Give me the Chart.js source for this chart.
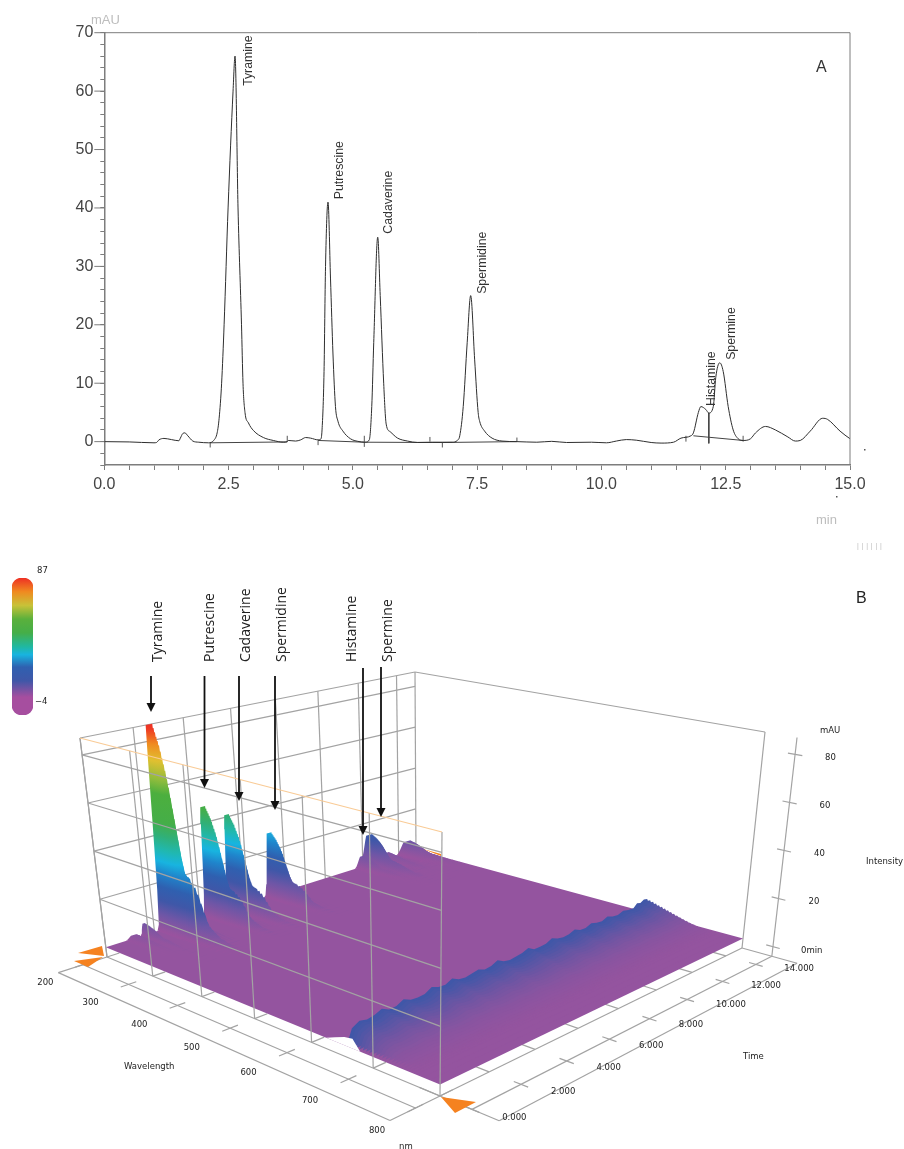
<!DOCTYPE html>
<html>
<head>
<meta charset="utf-8">
<script src="https://cdn.jsdelivr.net/npm/chart.js@4/dist/chart.umd.min.js"></script>
<style>
html, body { margin: 0; padding: 0; background: #fff; }
canvas { position: absolute; }
</style>
</head>
<body>
<canvas id="chrom" width="904" height="560" style="left:0px;top:0px"></canvas>
<canvas id="scene" width="904" height="589" style="left:0px;top:560px"></canvas>
<canvas id="bar" width="60" height="160" style="left:0px;top:565px"></canvas>
<script>
// --- panel A, chromatogram ---
const traceTimes = [0, 0.5, 1.0, 1.05, 1.1, 1.2, 1.35, 1.5, 1.53, 1.58, 1.62, 1.68, 1.78, 1.9, 2.1, 2.2, 2.27, 2.31, 2.36, 2.41, 2.49, 2.59, 2.63, 2.69, 2.76, 2.79, 2.83, 2.9, 3.0, 3.2, 3.4, 3.6, 3.68, 3.7, 3.85, 3.95, 4.05, 4.15, 4.3, 4.35, 4.38, 4.42, 4.45, 4.5, 4.55, 4.6, 4.65, 4.7, 4.8, 4.95, 5.1, 5.25, 5.33, 5.38, 5.42, 5.5, 5.55, 5.62, 5.67, 5.75, 5.9, 6.1, 6.3, 6.6, 7.0, 7.1, 7.15, 7.22, 7.3, 7.37, 7.45, 7.52, 7.55, 7.65, 7.8, 8.0, 8.3, 8.7, 9.0, 9.3, 9.8, 10.1, 10.3, 10.5, 10.7, 11.0, 11.2, 11.45, 11.6, 11.8, 11.85, 11.95, 12.0, 12.1, 12.16, 12.25, 12.3, 12.38, 12.45, 12.55, 12.65, 12.75, 12.85, 13.0, 13.1, 13.3, 13.5, 13.75, 13.9, 14.0, 14.2, 14.45, 14.55, 14.8, 15.0, 15.1, 15.16];
const traceSignal = [0, -0.05, -0.2, -0.15, 0.3, 0.55, 0.35, 0.15, 0.6, 1.4, 1.5, 1.0, 0.1, -0.1, -0.2, 0.2, 1.5, 4, 10, 20, 40, 60, 66, 40, 20, 10, 5, 3.2, 1.9, 0.7, 0.2, -0.1, 0, 0.2, 0.1, 0.3, 0.7, 0.6, 0.3, 0.4, 2, 12, 30, 41, 28, 15, 6, 3.5, 1.8, 0.5, 0.05, -0.1, 0.3, 6, 17, 35, 25, 10, 3, 1.7, 0.6, 0.1, -0.15, -0.1, -0.1, 0.2, 1, 6, 17, 25, 14, 5, 3.5, 1.8, 0.6, 0.1, 0, -0.1, 0.05, -0.15, -0.1, -0.2, 0.1, 0.35, 0.25, -0.15, -0.25, -0.1, 0.6, 1, 1.5, 5, 6, 5.5, 4.9, 6, 11, 13.5, 12, 6, 2, 0.5, 0.2, 0.5, 1.5, 2.6, 2, 0.8, 0.1, 0.2, 1.8, 4, 3.8, 1.8, 0.5, 0, -0.4];
const baselineTimes = [2.13, 3.68, null, 4.3, 5.23, 6.8, 8.3, null, 11.85, 12.85];
const baselineSignal = [-0.2, -0.05, null, 0.2, -0.1, -0.15, 0, null, 1, 0.2];
const eventTimes = [2.13, 3.68, 4.3, 5.23, 5.23, 6.55, 6.8, 8.3, 11.7, 12.85];
const eventLow = [-1, 0, -0.6, -0.9, 0, 0, -1, 0, 0, 0];
const eventHigh = [-0.2, 1, 0.2, 0, 1, 0.8, -0.1, 0.7, 1, 1];
const compounds = ['Tyramine', 'Putrescine', 'Cadaverine', 'Spermidine', 'Histamine', 'Spermine'];
const compoundLabelTimes = [2.91, 4.74, 5.71, 7.6, 12.22, 12.62];
const compoundLabelLevels = [60.9, 41.5, 35.6, 25.3, 6.1, 14];
const xMin = 0, xMax = 15, yMin = -4, yMax = 70;

// --- panel B, 3D plot (wavelength nm, time min, intensity mAU) ---
const wavelengthTicks = [200, 300, 400, 500, 600, 700, 800];
const timeTicks = [0, 2, 4, 6, 8, 10, 12, 14];
const intensityTicks = [20, 40, 60, 80];
const peakTimes = [14.5, 13.3, 12.4, 12.0, 7.37, 5.5, 4.5, 2.63, 1.6, 1.15];
const peakHeights = [5.5, 3, 14, 5, 28, 41, 47, 87, 5, 1.5];
const peakWidths = [1.5, 1.2, 1.3, 1, 0.85, 0.8, 0.8, 1, 0.4, 0.8];
const shapeOffsets = [-0.5, -0.42, -0.34, -0.26, -0.18, -0.14, 0.12, 0.17, 0.24, 0.32, 0.4, 0.5, 0.7, 0.9];
const shapeLevels = [0, 0.03, 0.2, 0.5, 0.85, 1, 1, 0.85, 0.5, 0.18, 0.08, 0.04, 0.02, 0];
const spectrumWaves = [200, 202, 204, 206, 208, 210, 212, 214, 216, 218, 220, 222, 224, 226, 228, 230, 232, 234, 236, 238, 240, 242, 244, 246, 248, 250, 255, 260, 265, 270, 275, 280, 285, 290, 295, 300, 310, 320, 330, 340];
const spectrumLevels = [1, 0.98, 0.96, 0.94, 0.92, 0.9, 0.87, 0.84, 0.81, 0.78, 0.74, 0.7, 0.65, 0.6, 0.55, 0.5, 0.45, 0.4, 0.36, 0.33, 0.3, 0.29, 0.285, 0.28, 0.28, 0.275, 0.26, 0.24, 0.21, 0.17, 0.13, 0.09, 0.07, 0.06, 0.05, 0.04, 0.03, 0.02, 0.01, 0.004];
const ridgeTimes = [0.1, 0.3, 0.6, 0.9, 1.2, 1.5, 1.8, 2.1, 2.4, 2.7, 3.0, 3.3, 3.6, 3.9, 4.2, 4.5, 4.8, 5.1, 5.4, 5.7, 6.0, 6.3, 6.6, 6.9, 7.2, 7.5, 7.8, 8.1, 8.4, 8.7, 9.0, 9.3, 9.6, 9.9, 10.2, 10.5, 10.8, 11.1, 11.4, 11.7, 12.0, 12.3, 12.6, 12.9, 13.2, 13.5, 13.8, 14.0, 14.2, 14.4, 14.6, 14.75, 14.85];
const ridgeHeights = [0, 5, 6.6, 5.9, 6.4, 7.6, 6.2, 6.4, 7.8, 6.5, 6.2, 6.5, 8, 7.0, 6.7, 8.1, 6.7, 6.3, 6.8, 7.4, 6.3, 6.7, 7.9, 6.5, 6, 6.3, 6.7, 7.7, 6.2, 6.3, 6.5, 7.7, 6.7, 6.2, 6.5, 7.5, 6.3, 6.2, 7.2, 6.5, 6.2, 7.2, 6.3, 6, 6.9, 6.3, 6.2, 7.7, 7.2, 8.1, 7.8, 5, 0];
const ridgeWaves = [655, 660, 665, 670, 675, 680, 685, 690, 695, 700, 705, 710, 715, 720, 725, 730, 735, 740, 745, 750, 755, 760, 765, 775, 785];
const ridgeLevels = [1, 0.97, 0.93, 0.88, 0.83, 0.78, 0.73, 0.68, 0.63, 0.58, 0.53, 0.48, 0.43, 0.38, 0.33, 0.29, 0.25, 0.21, 0.17, 0.14, 0.11, 0.08, 0.05, 0.03, 0.01];
const notchWaves = [625, 640, 655, 668, 680];
const notchLift = [0, 1.5, 3, 3.5, 0];
const colourLevels = [-4, 0, 6, 12, 18, 24, 29, 34, 40, 46, 58, 64, 72, 79, 85, 87];
const colourStops = ['#a64e9f', '#94549f', '#6e56a6', '#3f57a8', '#2f60b0', '#1f85cc', '#18b4e0', '#20b8b0', '#30b078', '#45ae48', '#4caf3e', '#8fbc3c', '#e0c030', '#f08a20', '#ee3b24', '#ee3024'];

const floorQuad = [[107, 957], [440, 1096], [742, 948], [416, 858]];
const topQuad = [[80, 738], [442, 832], [765, 732], [415, 672]];
const timeSpan = 15, intensityLow = -4, intensityTop = 87;

function squareToQuad(q) {
    const [[x0, y0], [x1, y1], [x2, y2], [x3, y3]] = q;
    const dx1 = x1 - x2, dx2 = x3 - x2, sx = x0 - x1 + x2 - x3;
    const dy1 = y1 - y2, dy2 = y3 - y2, sy = y0 - y1 + y2 - y3;
    const den = dx1 * dy2 - dx2 * dy1;
    const g = (sx * dy2 - dx2 * sy) / den, h = (dx1 * sy - sx * dy1) / den;
    const a = x1 - x0 + g * x1, b = x3 - x0 + h * x3, d = y1 - y0 + g * y1, e = y3 - y0 + h * y3;
    return (u, v) => {
        const w = g * u + h * v + 1;
        return [(a * u + b * v + x0) / w, (d * u + e * v + y0) / w];
    };
}
const floorMap = squareToQuad(floorQuad), topMap = squareToQuad(topQuad);

// wavelength, time, intensity -> scene coordinates
function project(w, t, i) {
    const u = (w - 200) / 600, v = t / timeSpan, s = (i - intensityLow) / (intensityTop - intensityLow);
    const f = floorMap(u, v), p = topMap(u, v);
    return { x: f[0] + (p[0] - f[0]) * s, y: f[1] + (p[1] - f[1]) * s };
}

const sceneCtx = document.getElementById('scene').getContext('2d');
const sceneSets = [];
const GRID = '#a3a3a3';

function addLine(points, color, width) {
    sceneSets.push({ data: points, showLine: true, borderColor: color || GRID, borderWidth: width || 1.2, pointRadius: 0, fill: false });
}
function addShape(points, color) {
    sceneSets.push({ data: points, showLine: true, borderColor: 'transparent', borderWidth: 0, pointRadius: 0, fill: 'shape', backgroundColor: color });
}
function seg(a, b, c, d, e, f) { return [project(a, b, c), project(d, e, f)]; }

function intensityGradient(w, t) {
    const y0 = project(w, t, intensityLow).y - 560, y1 = project(w, t, intensityTop).y - 560;
    const g = sceneCtx.createLinearGradient(0, y0, 0, y1);
    colourLevels.forEach((l, i) => g.addColorStop((l - intensityLow) / (intensityTop - intensityLow), colourStops[i]));
    return g;
}

// back walls
intensityTicks.forEach(i => addLine(seg(200, 0, i, 200, timeSpan, i)));
addLine(seg(200, 0, intensityTop, 200, timeSpan, intensityTop));
timeTicks.forEach(t => addLine(seg(200, t, intensityLow, 200, t, intensityTop)));
addLine(seg(200, timeSpan, intensityLow, 200, timeSpan, intensityTop));
addLine(seg(200, timeSpan, intensityTop, 800, timeSpan, intensityTop));
addLine(seg(800, timeSpan, intensityLow, 800, timeSpan, intensityTop));

// floor and axes
const tMid = -0.95, tOut = -1.9, wMid = 845, wOut = 882;
addLine(seg(200, 0, intensityLow, 800, 0, intensityLow));
addLine(seg(200, tMid, intensityLow, 800, tMid, intensityLow));
addLine(seg(200, tOut, intensityLow, 800, tOut, intensityLow));
addLine(seg(200, tOut, intensityLow, 200, 0, intensityLow));
addLine(seg(800, tOut, intensityLow, 800, 0, intensityLow));
addLine(seg(800, 0, intensityLow, 800, timeSpan, intensityLow));
addLine(seg(wMid, 0, intensityLow, wMid, timeSpan, intensityLow));
addLine(seg(wOut, 0, intensityLow, wOut, timeSpan, intensityLow));
addLine(seg(800, 0, intensityLow, wOut, 0, intensityLow));
addLine(seg(800, timeSpan, intensityLow, wOut, timeSpan, intensityLow));
wavelengthTicks.forEach(w => {
    addLine(seg(w, tMid - 0.3, intensityLow, w, tMid + 0.3, intensityLow));
    addLine(seg(w, 0, intensityLow, w, 0.5, intensityLow));
});
timeTicks.forEach(t => {
    addLine(seg(wMid - 10, t, intensityLow, wMid + 10, t, intensityLow));
    addLine(seg(800, t, intensityLow, 770, t, intensityLow));
});
// intensity axis
addLine(seg(wMid, timeSpan, intensityLow, wMid, timeSpan, intensityTop));
[0].concat(intensityTicks).forEach(i => addLine(seg(wMid - 10, timeSpan, i, wMid + 10, timeSpan, i)));

// flat surface
addShape([project(200, 0, 0), project(800, 0, 0), project(800, timeSpan, 0), project(200, timeSpan, 0)], '#94549f');

// peaks, far to near: constant wavelength curtains
spectrumWaves.forEach((w, k) => {
    peakTimes.forEach((tp, p) => {
        const points = shapeOffsets.map((o, j) => project(w, Math.min(tp + o * peakWidths[p], timeSpan), peakHeights[p] * spectrumLevels[k] * shapeLevels[j]));
        addShape(points, intensityGradient(w, tp));
    });
});

// second ridge near 650 nm
ridgeWaves.forEach((w, k) => {
    const points = ridgeTimes.map((t, j) => project(w, t, ridgeHeights[j] * ridgeLevels[k]));
    const l = ridgeLevels[k] * ridgeLevels[k] * 0.9 + ridgeLevels[k] * 0.1;
    addShape(points, `rgb(${Math.round(148 - 84 * l)},${Math.round(84 + 3 * l)},${Math.round(159 + 9 * l)})`);
});
// front edge lifts where the ridge meets it
addShape(notchWaves.map((w, i) => project(w, 0, notchLift[i])), '#fff');

// front wall, in front of the surface
wavelengthTicks.forEach(w => addLine(seg(w, 0, intensityLow, w, 0, intensityTop)));
intensityTicks.forEach(i => addLine(seg(200, 0, i, 800, 0, i)));
addLine(seg(200, 0, intensityTop, 800, 0, intensityTop), '#f9cb96', 1.2);

sceneSets.reverse();   // first dataset ends on top in chart.js

// annotations in page pixels
const arrowX = [151, 204.5, 239, 275, 363, 381];
const arrowFrom = [676, 676, 676, 676, 668, 667];
const arrowTip = [712, 788, 801, 810, 835, 817];
const sceneLabelX = [158, 210, 246, 282, 352, 388];
const sceneLabelBottom = [662, 662, 662, 662, 662, 662];
const triangles = [[[78, 953], [102, 946], [104, 956]], [[74, 961], [103, 957], [88, 967]], [[441, 1097], [476, 1102], [455, 1113]], [[423, 849], [441, 854], [441, 856]]];

const sceneOverlay = {
    id: 'sceneOverlay',
    afterDatasetsDraw(chart) {
        const { ctx, scales: { x, y } } = chart;
        const px = v => x.getPixelForValue(v), py = v => y.getPixelForValue(v);
        ctx.save();
        ctx.fillStyle = '#f58220';
        triangles.forEach(t => {
            ctx.beginPath();
            t.forEach((p, i) => i ? ctx.lineTo(px(p[0]), py(p[1])) : ctx.moveTo(px(p[0]), py(p[1])));
            ctx.closePath();
            ctx.fill();
        });
        // arrows
        ctx.strokeStyle = '#111';
        ctx.fillStyle = '#111';
        ctx.lineWidth = 1.8;
        arrowX.forEach((ax, i) => {
            ctx.beginPath();
            ctx.moveTo(px(ax), py(arrowFrom[i]));
            ctx.lineTo(px(ax), py(arrowTip[i] - 6));
            ctx.stroke();
            ctx.beginPath();
            ctx.moveTo(px(ax - 4.5), py(arrowTip[i] - 9));
            ctx.lineTo(px(ax + 4.5), py(arrowTip[i] - 9));
            ctx.lineTo(px(ax), py(arrowTip[i]));
            ctx.closePath();
            ctx.fill();
        });
        // compound names
        ctx.font = '14px "Open Sans"';
        ctx.fillStyle = '#222';
        ctx.textAlign = 'left';
        ctx.textBaseline = 'middle';
        compounds.forEach((name, i) => {
            ctx.save();
            ctx.translate(px(sceneLabelX[i]), py(sceneLabelBottom[i]));
            ctx.rotate(-Math.PI / 2);
            ctx.fillText(name, 0, 0);
            ctx.restore();
        });
        // axis text
        ctx.font = '8.5px "DejaVu Sans"';
        ctx.fillStyle = '#222';
        ctx.textAlign = 'center';
        wavelengthTicks.forEach(w => {
            const p = project(w, tOut, intensityLow);
            ctx.fillText(String(w), px(p.x - 13), py(p.y + 10));
        });
        ctx.textAlign = 'left';
        timeTicks.forEach(t => {
            const p = project(wOut, t, intensityLow);
            ctx.fillText(t.toFixed(3), px(p.x + 3), py(p.y - 3));
        });
        intensityTicks.forEach(i => {
            const p = project(wMid, timeSpan, i);
            ctx.fillText(String(i), px(p.x + 30), py(p.y + 3));
        });
        ctx.fillText('0min', px(801), py(951));
        ctx.fillText('mAU', px(820), py(731));
        ctx.fillText('Intensity', px(866), py(862));
        ctx.fillText('Time', px(743), py(1057));
        ctx.fillText('Wavelength', px(124), py(1067));
        ctx.fillText('nm', px(399), py(1147));
        ctx.fillText('87', px(37), py(571));
        ctx.fillText('\u22124', px(35), py(702));
        ctx.font = '16px "Liberation Sans"';
        ctx.fillText('B', px(856), py(599));
        ctx.restore();
    }
};

new Chart(sceneCtx, {
    type: 'scatter',
    data: { datasets: sceneSets },
    options: {
        responsive: false,
        animation: false,
        layout: { padding: 0 },
        scales: {
            x: { type: 'linear', min: 0, max: 904, display: false },
            y: { type: 'linear', min: 560, max: 1149, reverse: true, display: false }
        },
        plugins: { legend: { display: false }, tooltip: { enabled: false } }
    },
    plugins: [sceneOverlay]
});

// colour bar, -4 to 87
const barCtx = document.getElementById('bar').getContext('2d');
const barGradient = barCtx.createLinearGradient(0, 150, 0, 13);
barGradient.addColorStop(0, '#a64e9f');
barGradient.addColorStop(0.13, '#a64e9f');
barGradient.addColorStop(0.25, '#3f57a8');
barGradient.addColorStop(0.35, '#2f60b0');
barGradient.addColorStop(0.44, '#18b4e0');
barGradient.addColorStop(0.5, '#20b8a0');
barGradient.addColorStop(0.6, '#45ae48');
barGradient.addColorStop(0.7, '#5ab03c');
barGradient.addColorStop(0.8, '#c8c238');
barGradient.addColorStop(0.9, '#f08a20');
barGradient.addColorStop(1, '#ee3024');
new Chart(barCtx, {
    type: 'bar',
    data: { labels: ['scale'], datasets: [{ data: [[-4, 87]], backgroundColor: barGradient, borderSkipped: false, borderRadius: 10, barThickness: 21 }] },
    options: {
        responsive: false,
        animation: false,
        layout: { padding: { left: 12, right: 27, top: 13, bottom: 10 } },
        scales: { x: { display: false }, y: { display: false, min: -4, max: 87 } },
        plugins: { legend: { display: false }, tooltip: { enabled: false } }
    }
});

// panel A
const AXIS = '#7d7d7d';
const chromOverlay = {
    id: 'chromOverlay',
    afterDraw(chart) {
        const { ctx, chartArea: { top, bottom, left, right }, scales: { x, y } } = chart;
        ctx.save();
        ctx.strokeStyle = AXIS;
        ctx.lineWidth = 1;
        ctx.beginPath();
        ctx.moveTo(left, top); ctx.lineTo(right, top); ctx.lineTo(right, bottom);
        y.ticks.filter(t => t.value % 10 === 0).forEach(t => {
            ctx.moveTo(left - 10, y.getPixelForValue(t.value));
            ctx.lineTo(left, y.getPixelForValue(t.value));
        });
        ctx.stroke();
        // compound names
        ctx.fillStyle = '#333';
        ctx.font = '12.3px "Liberation Sans"';
        ctx.textAlign = 'left';
        ctx.textBaseline = 'middle';
        compounds.forEach((name, i) => {
            ctx.save();
            ctx.translate(x.getPixelForValue(compoundLabelTimes[i]), y.getPixelForValue(compoundLabelLevels[i]));
            ctx.rotate(-Math.PI / 2);
            ctx.fillText(name, 0, 0);
            ctx.restore();
        });
        ctx.fillStyle = '#333';
        ctx.font = '16px "Liberation Sans"';
        ctx.fillText('A', 816, 68);
        ctx.fillStyle = '#bdbdbd';
        ctx.font = '13px "Liberation Sans"';
        ctx.fillText('mAU', 91, 20);
        ctx.fillText('min', 816, 520);
        ctx.font = '7px "Liberation Sans"';
        ctx.letterSpacing = '2.8px';
        ctx.fillText('||||||', 857, 546);
        ctx.letterSpacing = '0px';
        ctx.fillStyle = '#555';
        ctx.fillRect(864, 449, 1.5, 1.5);
        ctx.fillRect(836, 496, 1.5, 1.5);
        ctx.restore();
    }
};

const chromSets = [
    { data: traceTimes.map((t, i) => ({ x: t, y: traceSignal[i] })), borderColor: '#2e2e2e', cubicInterpolationMode: 'monotone' },
    { data: baselineTimes.map((t, i) => ({ x: t, y: baselineSignal[i] })), borderColor: '#444' }
];
eventTimes.forEach((t, i) => chromSets.push({ data: [{ x: t, y: eventLow[i] }, { x: t, y: eventHigh[i] }], borderColor: '#555' }));
chromSets.push({ data: [{ x: 12.16, y: 4.9 }, { x: 12.16, y: -0.3 }], borderColor: '#444' });

new Chart(document.getElementById('chrom'), {
    type: 'scatter',
    data: {
        datasets: chromSets.map(s => Object.assign({ showLine: true, borderWidth: 1, pointRadius: 0, clip: false, spanGaps: false }, s))
    },
    options: {
        responsive: false,
        animation: false,
        layout: { padding: { top: 32.7, right: 54, left: 0, bottom: 0 } },
        scales: {
            x: {
                type: 'linear', min: xMin, max: xMax,
                afterFit: s => { s.height = 95; },
                border: { color: AXIS, width: 1.5 },
                grid: { drawOnChartArea: false, tickLength: 5, color: AXIS },
                ticks: {
                    stepSize: 0.5, autoSkip: false, maxRotation: 0, color: '#444', padding: 5,
                    font: { family: '"Liberation Sans"', size: 16 },
                    callback: v => (v % 2.5 === 0 ? v.toFixed(1) : '')
                }
            },
            y: {
                type: 'linear', min: yMin, max: yMax,
                afterFit: s => { s.width = 104.3; },
                border: { color: AXIS, width: 1.5 },
                grid: { drawOnChartArea: false, tickLength: 4, color: AXIS },
                ticks: {
                    stepSize: 2, autoSkip: false, color: '#444', padding: 7,
                    font: { family: '"Liberation Sans"', size: 16 },
                    callback: v => (v % 10 === 0 ? String(v) : '')
                }
            }
        },
        plugins: { legend: { display: false }, tooltip: { enabled: false } }
    },
    plugins: [chromOverlay]
});
</script>
</body>
</html>
